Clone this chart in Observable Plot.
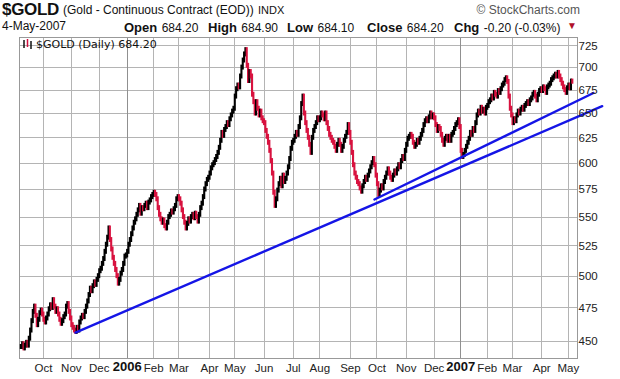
<!DOCTYPE html>
<html><head><meta charset="utf-8">
<script src="https://cdn.jsdelivr.net/npm/d3@7"></script>
<script src="https://cdn.jsdelivr.net/npm/@observablehq/plot@0.6"></script>
<style>
body{margin:0;background:#fff;font-family:"Liberation Sans",Arial,sans-serif;color:#111}
#wrap{position:relative;width:620px;height:379px;overflow:hidden;background:#fff}
#head{position:relative;height:35px}
#head span{position:absolute;white-space:nowrap}
.b{font-weight:bold;font-size:13px}
.v{font-size:12px}
#legend{position:absolute;left:22px;top:38px;font:11px "DejaVu Sans",sans-serif;color:#111;white-space:nowrap}
#legend svg{vertical-align:-1px;margin-right:3px}
</style></head><body>
<div id="wrap">
  <div id="head">
    <span style="left:2px;top:0px;font-weight:bold;font-size:17px;letter-spacing:-0.3px">$GOLD</span>
    <span style="left:63px;top:3px;font-size:12px">(Gold - Continuous Contract (EOD))</span>
    <span style="left:258px;top:4px;font-size:11px">INDX</span>
    <span style="right:40px;top:3px;font-size:12px;color:#555">&#169; StockCharts.com</span>
    <span style="left:2px;top:19px;font-size:12px">4-May-2007</span>
    <span style="left:124px;top:18px"><b class="b">Open</b> <span class="v" style="position:static">684.20</span></span>
    <span style="left:208px;top:18px"><b class="b">High</b> <span class="v" style="position:static">684.90</span></span>
    <span style="left:287px;top:18px"><b class="b">Low</b> <span class="v" style="position:static">684.10</span></span>
    <span style="left:367px;top:18px"><b class="b">Close</b> <span class="v" style="position:static">684.20</span></span>
    <span style="left:454px;top:18px"><b class="b">Chg</b> <span class="v" style="position:static">-0.20 (-0.03%)</span></span>
    <span style="left:567px;top:20px;font-size:10px;color:#b0102a">&#9660;</span>
  </div>
  <div id="chart"></div>
  <div id="legend"><svg width="11" height="10"><line x1="2" y1="1" x2="2" y2="9" stroke="#111" stroke-width="1.5"/><line x1="5.5" y1="0" x2="5.5" y2="8" stroke="#d01040" stroke-width="1.5"/><line x1="9" y1="2" x2="9" y2="10" stroke="#111" stroke-width="1.5"/></svg>$GOLD (Daily) 684.20</div>
</div>
<script>
// Daily closes per month
const sep05 = [446, 448, 445, 447, 449, 447, 452, 458, 465, 472, 476, 469, 462, 466, 471, 473, 470];
const oct05 = [466, 464, 467, 470, 474, 477, 475, 481, 476, 472, 474, 470, 466, 463, 465, 468, 470, 476, 478, 472, 467];
const nov05 = [462, 460, 458, 457, 460, 458, 464, 467, 469, 468, 472, 476, 480, 485, 490, 488, 492, 495, 493, 497, 500];
const dec05 = [504, 506, 510, 514, 520, 526, 532, 540, 530, 522, 515, 510, 505, 500, 494, 497, 502, 505, 510, 516, 517];
const jan06 = [520, 526, 530, 535, 540, 545, 548, 552, 556, 560, 553, 558, 557, 560, 562, 558, 563, 565, 568, 570];
const feb06 = [572, 570, 566, 558, 552, 548, 545, 547, 542, 540, 545, 550, 552, 555, 554, 557, 560, 566, 568];
const mar06 = [566, 562, 556, 550, 545, 540, 544, 548, 546, 550, 552, 549, 553, 550, 546, 552, 558, 562, 568, 575, 580, 584, 586];
const apr06 = [590, 595, 598, 600, 603, 606, 610, 615, 622, 630, 627, 633, 636, 640, 638, 644, 648, 652, 655];
const may06 = [668, 676, 680, 678, 690, 700, 708, 715, 720, 702, 685, 695, 690, 670, 662, 650, 662, 655, 648, 652, 645, 642];
const jun06 = [640, 632, 626, 620, 612, 602, 590, 572, 560, 566, 574, 580, 585, 578, 588, 582, 585, 590, 596, 604, 614, 620];
const jul06 = [622, 626, 630, 628, 636, 645, 660, 668, 650, 640, 632, 625, 618, 610, 625, 632, 636, 640, 645, 643];
const aug06 = [645, 650, 648, 644, 650, 640, 634, 628, 625, 622, 620, 616, 612, 618, 622, 618, 612, 616, 622, 626, 630, 638, 630];
const sep06 = [620, 610, 598, 590, 586, 582, 580, 576, 573, 578, 582, 586, 584, 588, 592, 596, 600, 604, 598, 588];
const oct06 = [580, 570, 574, 578, 576, 582, 586, 590, 594, 590, 586, 584, 588, 592, 590, 594, 598, 596, 602, 606, 604, 612];
const nov06 = [618, 624, 626, 628, 626, 620, 616, 618, 622, 620, 624, 628, 632, 638, 642, 644, 642, 646, 650, 646, 648];
const dec06 = [645, 638, 632, 636, 634, 628, 622, 618, 624, 626, 622, 626, 622, 628, 630, 634, 638, 640, 643, 636];
const jan07 = [612, 606, 608, 612, 616, 620, 624, 630, 628, 634, 632, 640, 648, 652, 650, 656, 652, 654, 650, 656];
const feb07 = [658, 662, 664, 668, 666, 672, 670, 668, 674, 672, 676, 680, 682, 686, 688, 684, 668, 655, 648];
const mar07 = [640, 644, 642, 648, 652, 650, 654, 656, 654, 658, 660, 662, 660, 664, 666, 670, 672, 668, 664, 670, 674, 676];
const apr07 = [674, 678, 676, 672, 678, 680, 682, 686, 688, 690, 692, 690, 694, 690, 686, 682, 678, 675, 672, 677];
const may07 = [680, 677, 684.4, 684.2];

const monthLabels = ["Oct","Nov","Dec","2006","Feb","Mar","Apr","May","Jun","Jul","Aug","Sep","Oct","Nov","Dec","2007","Feb","Mar","Apr","May"];
const yTicks = [450, 475, 500, 525, 550, 575, 600, 625, 650, 675, 700, 725];

// Trend lines: [trading-day index], [price]
const trendLongX = [41.1, 437.5];
const trendLongY = [456.5, 657.7];
const trendShortX = [266.1, 430.9];
const trendShortY = [565.8, 671.9];

const months = [sep05, oct05, nov05, dec05, jan06, feb06, mar06, apr06, may06, jun06, jul06, aug06, sep06, oct06, nov06, dec06, jan07, feb07, mar07, apr07, may07];

const bars = [];
const monthTicks = [];
let idx = 0, prev = null;
months.forEach((m, k) => {
  if (k > 0) monthTicks.push({x: idx, label: monthLabels[k - 1], year: /^\d{4}$/.test(monthLabels[k - 1])});
  m.forEach(c => { bars.push({i: idx, c, p: prev ?? c}); prev = c; idx++; });
});
const lines = [
  ...trendLongX.map((x, k) => ({x, y: trendLongY[k], id: "a"})),
  ...trendShortX.map((x, k) => ({x, y: trendShortY[k], id: "b"}))
];
const yLab = yTicks.map(v => ({v, t: String(v)}));

const RED = "#d8123f", BLACK = "#000";
const chart = Plot.plot({
  width: 620, height: 344,
  marginLeft: 19, marginRight: 43, marginTop: 2, marginBottom: 21,
  style: {fontFamily: "'Liberation Sans', Arial, sans-serif", background: "#fff", overflow: "visible"},
  x: {type: "linear", domain: [-1, 418.9], axis: null},
  y: {type: "log", domain: [437.8, 734.8], axis: null},
  marks: [
    Plot.ruleY(yLab, {y: "v", stroke: "#b4b4b4", strokeWidth: 1, shapeRendering: "crispEdges"}),
    Plot.ruleX(monthTicks, {x: "x", stroke: d => d.year ? "#909090" : "#b4b4b4", strokeWidth: 1, shapeRendering: "crispEdges"}),
    Plot.frame({stroke: "#999", strokeWidth: 1, shapeRendering: "crispEdges"}),
    Plot.ruleX(bars, {x: "i", y1: d => Math.min(d.p, d.c) * 0.996, y2: d => Math.max(d.p, d.c) * 1.004, stroke: d => d.c < d.p ? RED : BLACK, strokeWidth: 2.1}),
    Plot.line(lines, {x: "x", y: "y", z: "id", stroke: "#1515e6", strokeWidth: 2.4}),
    Plot.text(yLab, {y: "v", text: "t", frameAnchor: "right", textAnchor: "start", dx: 1, fontSize: 11.5, fill: "#222"}),
    Plot.text(monthTicks.filter(d => !d.year), {x: "x", text: "label", frameAnchor: "bottom", dy: 13, fontSize: 11.5, fill: "#222"}),
    Plot.text(monthTicks.filter(d => d.year), {x: "x", text: "label", frameAnchor: "bottom", dy: 12, fontSize: 13, fontWeight: "bold", fill: "#111"})
  ]
});
document.getElementById("chart").appendChild(chart);
</script>
</body></html>
